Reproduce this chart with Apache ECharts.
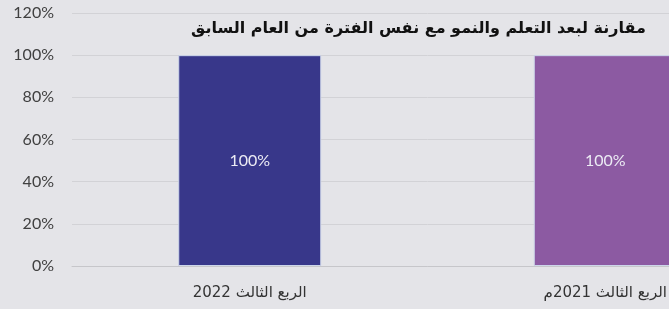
<!DOCTYPE html>
<html>
<head>
<meta charset="utf-8">
<script src="https://cdn.jsdelivr.net/npm/echarts@6/dist/echarts.min.js"></script>
<style>
  html, body { margin: 0; padding: 0; background: #e4e4e8; overflow: hidden; }
  /* the plot runs past the right edge of the window, like the cropped original */
  #chart { width: 783px; height: 309px; }
</style>
</head>
<body>
<div id="chart"></div>
<script>
  // data
  var categories = ['الربع الثالث 2022', 'الربع الثالث 2021م']
  var values = [100, 100]
  var barColors = ['#38378a', '#8c5aa2']
  var chartTitle = 'مقارنة لبعد التعلم والنمو مع نفس الفترة من العام السابق'

  var chart = echarts.init(document.getElementById('chart'))
  chart.setOption({
    backgroundColor: '#e4e4e8',
    animation: false,
    title: {
      text: chartTitle,
      left: 186,
      top: 16,
      textStyle: {
        fontFamily: 'DejaVu Sans',
        fontWeight: 'bold',
        fontSize: 16,
        color: '#111'
      }
    },
    grid: { left: 72, right: 0, top: 13, bottom: 43 },
    xAxis: {
      type: 'category',
      data: categories,
      axisTick: { show: false },
      axisLine: { lineStyle: { color: '#c6c6ca' } },
      axisLabel: { margin: 20, color: '#333', fontSize: 15, fontFamily: 'DejaVu Sans' }
    },
    yAxis: {
      type: 'value',
      min: 0,
      max: 120,
      interval: 20,
      axisLabel: {
        formatter: '{value}%',
        margin: 18,
        color: '#404040',
        fontSize: 16,
        fontFamily: 'Lato'
      },
      splitLine: { lineStyle: { color: '#d2d2d6' } }
    },
    series: [{
      type: 'bar',
      barWidth: 143,
      data: values.map(function (v, i) {
        return { value: v, itemStyle: { color: barColors[i], borderColor: '#cdd6ea', borderWidth: 1 } }
      }),
      label: {
        show: true,
        position: 'inside',
        formatter: '{c}%',
        color: '#ecebf4',
        fontSize: 16,
        fontFamily: 'Lato'
      }
    }]
  })
</script>
</body>
</html>
